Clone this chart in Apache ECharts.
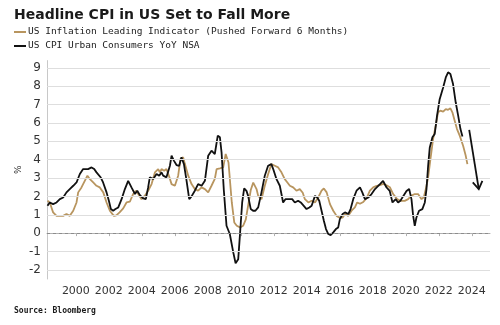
<!DOCTYPE html>
<html>
<head>
<meta charset="utf-8">
<script src="https://cdn.jsdelivr.net/npm/echarts@6/dist/echarts.min.js"></script>
<style>
  html, body { margin: 0; padding: 0; background: #ffffff; }
  #chart { width: 500px; height: 325px; }
</style>
</head>
<body>
<div id="chart"></div>
<script>
// US CPI YoY (NSA), decimal years
const cpiYears = [
  1998.28, 1998.42, 1998.62, 1998.83, 1999.03, 1999.23, 1999.43, 1999.63, 1999.84, 2000.04,
  2000.24, 2000.44, 2000.54, 2000.74, 2000.95, 2001.11, 2001.25, 2001.35, 2001.51, 2001.65,
  2001.86, 2002.00, 2002.12, 2002.26, 2002.40, 2002.57, 2002.77, 2002.97, 2003.17, 2003.37,
  2003.58, 2003.72, 2003.88, 2004.08, 2004.24, 2004.38, 2004.48, 2004.69, 2004.79, 2004.89,
  2005.05, 2005.19, 2005.29, 2005.49, 2005.70, 2005.80, 2005.94, 2006.10, 2006.26, 2006.40,
  2006.55, 2006.71, 2006.87, 2007.01, 2007.21, 2007.41, 2007.62, 2007.82, 2008.02, 2008.22,
  2008.42, 2008.60, 2008.73, 2008.83, 2008.97, 2009.13, 2009.33, 2009.54, 2009.68, 2009.84,
  2009.94, 2010.08, 2010.20, 2010.34, 2010.44, 2010.60, 2010.74, 2010.88, 2011.05, 2011.25,
  2011.45, 2011.65, 2011.85, 2011.96, 2012.16, 2012.36, 2012.46, 2012.56, 2012.70, 2012.86,
  2012.97, 2013.11, 2013.27, 2013.47, 2013.63, 2013.80, 2013.98, 2014.15, 2014.29, 2014.49,
  2014.63, 2014.75, 2014.89, 2015.03, 2015.16, 2015.30, 2015.44, 2015.60, 2015.76, 2015.90,
  2016.00, 2016.17, 2016.31, 2016.51, 2016.65, 2016.81, 2017.01, 2017.22, 2017.36, 2017.52,
  2017.72, 2017.92, 2018.13, 2018.43, 2018.62, 2018.82, 2019.02, 2019.19, 2019.39, 2019.53,
  2019.67, 2019.83, 2020.04, 2020.20, 2020.34, 2020.44, 2020.54, 2020.64, 2020.80, 2021.00,
  2021.15, 2021.25, 2021.35, 2021.45, 2021.61, 2021.75, 2021.89, 2022.05, 2022.26, 2022.42,
  2022.56, 2022.70, 2022.86, 2023.02, 2023.17, 2023.31, 2023.43
];
const cpiValues = [
  1.49, 1.67, 1.58, 1.67, 1.85, 1.94, 2.22, 2.40, 2.58, 2.76,
  3.22, 3.49, 3.58, 3.49, 3.58, 3.49, 3.31, 3.38, 3.03, 2.76,
  2.22, 1.76, 1.31, 1.22, 1.31, 1.40, 1.85, 2.40, 2.85, 2.49,
  2.13, 2.31, 2.07, 1.89, 1.85, 2.49, 3.04, 2.95, 3.04, 3.22,
  3.13, 3.31, 3.13, 3.04, 3.67, 4.22, 3.95, 3.71, 3.67, 4.13,
  3.76, 2.85, 1.85, 2.00, 2.31, 2.67, 2.58, 2.85, 4.22, 4.49,
  4.31, 5.31, 5.22, 4.40, 2.31, 0.40, -0.05, -1.05, -1.64, -1.42,
  -0.15, 1.67, 2.44, 2.30, 2.03, 1.31, 1.22, 1.22, 1.40, 2.22,
  3.13, 3.67, 3.76, 3.49, 2.94, 2.58, 2.13, 1.67, 1.85, 1.85,
  1.76, 1.85, 1.67, 1.76, 1.67, 1.50, 1.31, 1.40, 1.49, 2.03,
  1.94, 1.76, 1.22, 0.67, 0.22, -0.05, -0.11, 0.04, 0.22, 0.31,
  0.76, 1.04, 1.13, 1.04, 1.31, 1.85, 2.31, 2.49, 2.22, 1.85,
  1.94, 2.13, 2.40, 2.67, 2.85, 2.50, 2.30, 1.67, 1.85, 1.67,
  1.76, 2.00, 2.30, 2.40, 1.85, 0.95, 0.40, 0.85, 1.22, 1.31,
  1.67, 2.40, 3.67, 4.67, 5.22, 5.40, 6.40, 7.30, 7.94, 8.48,
  8.76, 8.67, 8.12, 7.13, 6.40, 5.67, 5.27
];

// Inflation leading indicator, shifted forward 6 months
const leadYears = [
  1998.28, 1998.42, 1998.52, 1998.62, 1998.83, 1999.03, 1999.23, 1999.43, 1999.63, 1999.84,
  2000.04, 2000.14, 2000.34, 2000.54, 2000.70, 2000.85, 2001.05, 2001.25, 2001.45, 2001.66,
  2001.86, 2002.06, 2002.30, 2002.45, 2002.65, 2002.87, 2003.07, 2003.27, 2003.47, 2003.64,
  2003.78, 2003.98, 2004.18, 2004.38, 2004.59, 2004.79, 2004.99, 2005.09, 2005.19, 2005.35,
  2005.49, 2005.65, 2005.80, 2006.00, 2006.20, 2006.34, 2006.50, 2006.61, 2006.81, 2007.01,
  2007.21, 2007.41, 2007.62, 2007.82, 2008.02, 2008.22, 2008.42, 2008.53, 2008.73, 2008.93,
  2009.08, 2009.25, 2009.45, 2009.60, 2009.75, 2009.95, 2010.14, 2010.30, 2010.45, 2010.60,
  2010.75, 2010.95, 2011.05, 2011.25, 2011.45, 2011.65, 2011.85, 2012.06, 2012.26, 2012.46,
  2012.66, 2012.82, 2012.97, 2013.17, 2013.37, 2013.57, 2013.75, 2013.88, 2014.09, 2014.29,
  2014.49, 2014.69, 2014.89, 2015.03, 2015.20, 2015.40, 2015.60, 2015.80, 2015.96, 2016.17,
  2016.31, 2016.51, 2016.71, 2016.91, 2017.05, 2017.22, 2017.42, 2017.62, 2017.82, 2018.02,
  2018.23, 2018.43, 2018.63, 2018.83, 2019.03, 2019.23, 2019.47, 2019.67, 2019.93, 2020.14,
  2020.34, 2020.54, 2020.74, 2020.95, 2021.09, 2021.21, 2021.35, 2021.49, 2021.65, 2021.81,
  2021.95, 2022.09, 2022.26, 2022.42, 2022.56, 2022.70, 2022.82, 2022.96, 2023.10, 2023.27,
  2023.47, 2023.63, 2023.73
];
const leadValues = [
  1.76, 1.67, 1.40, 1.13, 0.94, 0.94, 0.94, 1.04, 0.94, 1.22,
  1.67, 2.22, 2.49, 2.85, 3.13, 2.94, 2.76, 2.58, 2.49, 2.22,
  1.67, 1.22, 0.94, 0.97, 1.13, 1.35, 1.67, 1.71, 2.13, 2.31,
  2.13, 1.85, 2.04, 2.31, 2.67, 3.31, 3.49, 3.31, 3.49, 3.40,
  3.49, 3.10, 2.67, 2.58, 3.13, 4.04, 4.13, 3.76, 3.13, 2.67,
  2.40, 2.31, 2.49, 2.40, 2.22, 2.58, 2.95, 3.49, 3.53, 3.58,
  4.31, 3.85, 1.67, 0.58, 0.40, 0.31, 0.40, 0.75, 1.55, 2.35,
  2.75, 2.40, 2.03, 1.85, 2.58, 3.21, 3.76, 3.67, 3.58, 3.31,
  2.94, 2.76, 2.58, 2.49, 2.31, 2.40, 2.20, 1.85, 1.67, 1.76,
  1.67, 1.94, 2.31, 2.43, 2.22, 1.58, 1.22, 0.94, 0.85, 0.85,
  1.04, 0.94, 1.22, 1.40, 1.67, 1.60, 1.70, 1.90, 2.31, 2.49,
  2.58, 2.62, 2.68, 2.60, 2.50, 2.13, 1.85, 1.76, 1.76, 1.85,
  2.04, 2.13, 2.13, 1.85, 1.95, 2.40, 3.03, 4.03, 5.12, 5.85,
  6.58, 6.67, 6.62, 6.76, 6.72, 6.80, 6.58, 6.12, 5.67, 5.30,
  4.76, 4.21, 3.76
];

// Projection arrow: start and end in (year, %)
const arrowFrom = [2023.84, 5.63];
const arrowTo = [2024.42, 2.40];

// Axis labels
const yearTicks = [2000, 2002, 2004, 2006, 2008, 2010, 2012, 2014, 2016, 2018, 2020, 2022, 2024];
const pctTicks = [-2, -1, 0, 1, 2, 3, 4, 5, 6, 7, 8, 9];

const leadName = 'US Inflation Leading Indicator (Pushed Forward 6 Months)';
const cpiName = 'US CPI Urban Consumers YoY NSA';

const zip = (xs, ys) => xs.map((x, i) => [x, ys[i]]);

const gridLines = pctTicks.map(v => ({
  yAxis: v,
  lineStyle: v === 0
    ? { color: '#8c8c8c', type: [3, 3], width: 1 }
    : { color: '#dedede', type: 'solid', width: 1 }
}));

const chart = echarts.init(document.getElementById('chart'), null, { renderer: 'canvas' });

chart.setOption({
  animation: false,
  backgroundColor: '#ffffff',
  title: {
    text: 'Headline CPI in US Set to Fall More',
    left: 14, top: 8, padding: 0,
    textStyle: { fontFamily: 'DejaVu Sans', fontWeight: 'bold', fontSize: 14, color: '#1a1a1a' }
  },
  legend: {
    orient: 'vertical',
    left: 14, top: 26, padding: 0,
    itemWidth: 12, itemHeight: 2, itemGap: 2,
    icon: 'rect',
    textStyle: { fontFamily: 'DejaVu Sans Mono', fontSize: 9.5, color: '#222', lineHeight: 12, padding: [0, 0, 0, -3] },
    data: [leadName, cpiName]
  },
  graphic: [{
    type: 'text', left: 14, top: 307,
    style: { text: 'Source: Bloomberg', fontFamily: 'DejaVu Sans Mono', fontWeight: 'bold', fontSize: 8, fill: '#1a1a1a' }
  }],
  grid: { left: 47, right: 10, top: 60.6, bottom: 46 },
  xAxis: {
    type: 'value', min: 1998.25, max: 2025.1,
    axisLine: { show: true, lineStyle: { color: '#b0b0b0' } },
    axisTick: { show: true, length: 3, customValues: yearTicks, lineStyle: { color: '#b0b0b0' } },
    axisLabel: {
      customValues: yearTicks, formatter: v => String(Math.round(v)),
      fontFamily: 'DejaVu Sans', fontSize: 11, color: '#333', margin: 7
    },
    splitLine: { show: false }
  },
  yAxis: {
    type: 'value', min: -2.5, max: 9.4,
    name: '%', nameLocation: 'middle', nameGap: 24, nameRotate: 90, nameMoveOverlap: false,
    nameTextStyle: { fontFamily: 'DejaVu Sans', fontSize: 9, color: '#333' },
    axisLine: { show: true, lineStyle: { color: '#c8c8c8' } },
    axisTick: { show: false },
    axisLabel: { customValues: pctTicks, fontFamily: 'DejaVu Sans', fontSize: 12, color: '#333', margin: 6 },
    splitLine: { show: false }
  },
  series: [
    {
      name: 'gridlines', type: 'line', data: [], z: 1, silent: true,
      markLine: { silent: true, symbol: 'none', label: { show: false }, data: gridLines }
    },
    {
      name: leadName, type: 'line', data: zip(leadYears, leadValues), z: 3,
      showSymbol: false, color: '#b8955f', lineStyle: { color: '#b8955f', width: 1.8 }
    },
    {
      name: cpiName, type: 'line', data: zip(cpiYears, cpiValues), z: 4,
      showSymbol: false, color: '#111111', lineStyle: { color: '#111111', width: 1.8 }
    },
    {
      name: 'projection', type: 'custom', z: 5, silent: true,
      data: [[arrowFrom[0], arrowFrom[1], arrowTo[0], arrowTo[1]]],
      renderItem: function (params, api) {
        const p0 = api.coord([api.value(0), api.value(1)]);
        const p1 = api.coord([api.value(2), api.value(3)]);
        const ang = Math.atan2(p1[1] - p0[1], p1[0] - p0[0]);
        const head = 9, spread = Math.PI / 5.5;
        const a = [p1[0] - head * Math.cos(ang - spread), p1[1] - head * Math.sin(ang - spread)];
        const b = [p1[0] - head * Math.cos(ang + spread), p1[1] - head * Math.sin(ang + spread)];
        const st = { stroke: '#111111', lineWidth: 1.8, fill: null };
        return {
          type: 'group',
          children: [
            { type: 'polyline', shape: { points: [p0, p1] }, style: st },
            { type: 'polyline', shape: { points: [a, p1, b] }, style: st }
          ]
        };
      }
    }
  ]
});
</script>
</body>
</html>
